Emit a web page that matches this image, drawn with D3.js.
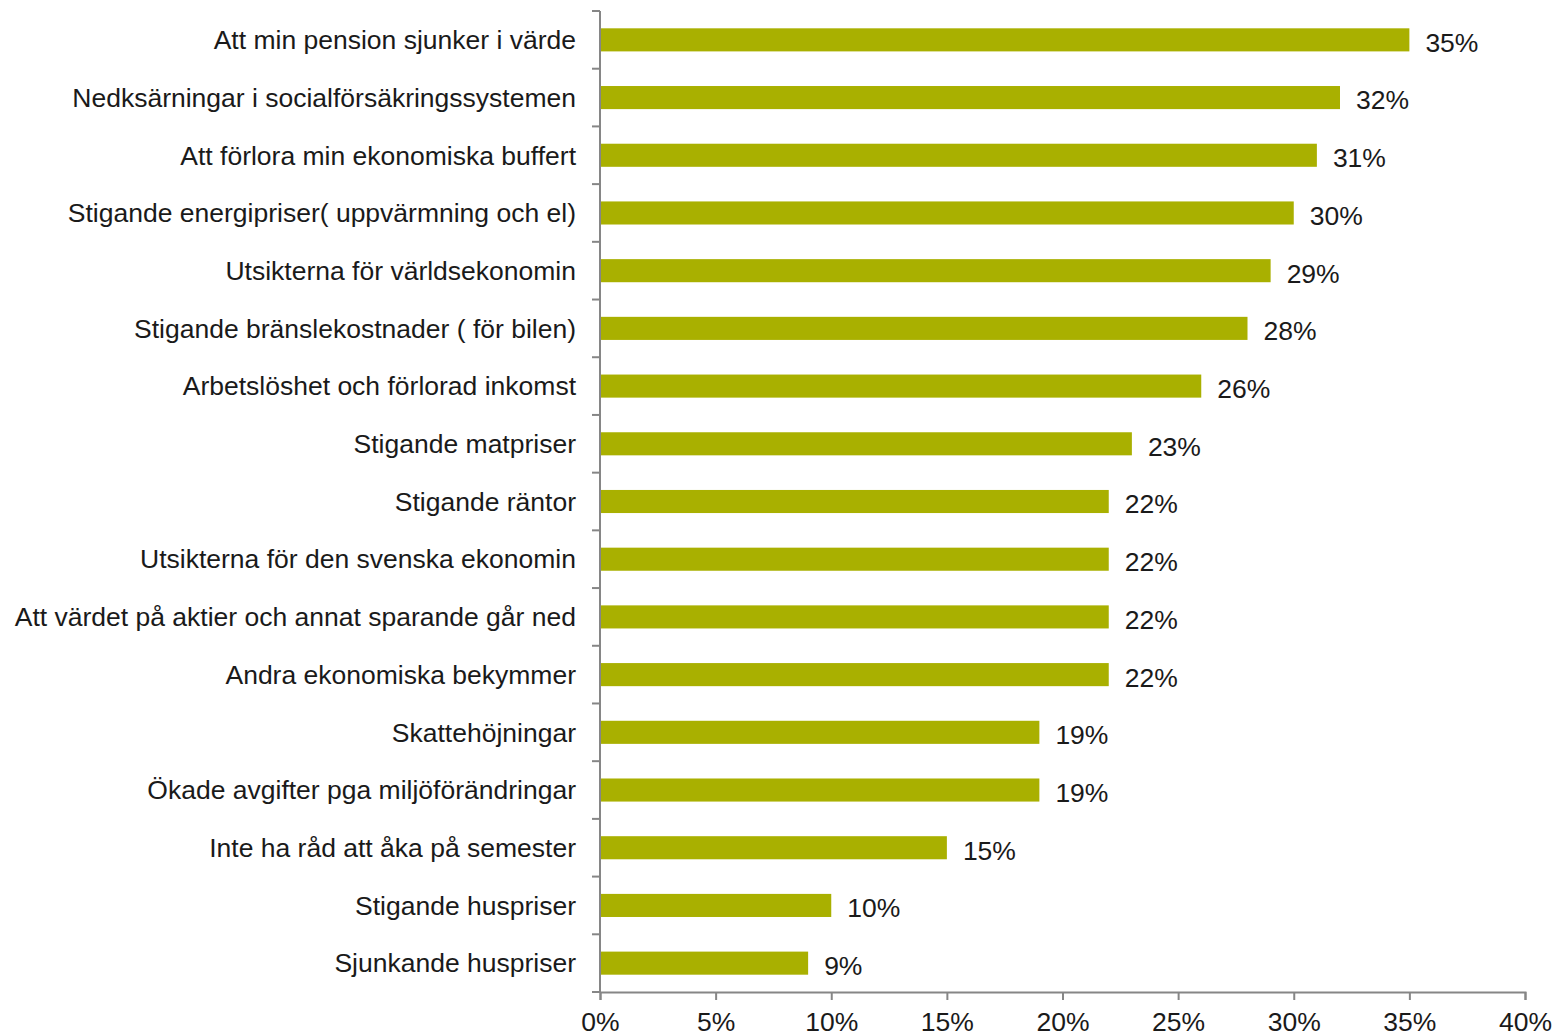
<!DOCTYPE html>
<html>
<head>
<meta charset="utf-8">
<script src="https://cdn.jsdelivr.net/npm/d3@7"></script>
<style>
  body { margin: 0; background: #fff; overflow: hidden; }
  text { font-family: "Liberation Sans", Arial, sans-serif; fill: #1a1a1a; }
</style>
</head>
<body>
<div id="chart"></div>
<script>
// categories, top to bottom
var categories = [
    "Att min pension sjunker i värde",
    "Nedksärningar i socialförsäkringssystemen",
    "Att förlora min ekonomiska buffert",
    "Stigande energipriser( uppvärmning och el)",
    "Utsikterna för världsekonomin",
    "Stigande bränslekostnader ( för bilen)",
    "Arbetslöshet och förlorad inkomst",
    "Stigande matpriser",
    "Stigande räntor",
    "Utsikterna för den svenska ekonomin",
    "Att värdet på aktier och annat sparande går ned",
    "Andra ekonomiska bekymmer",
    "Skattehöjningar",
    "Ökade avgifter pga miljöförändringar ",
    "Inte ha råd att åka på semester",
    "Stigande huspriser",
    "Sjunkande huspriser"
];
var values = [35, 32, 31, 30, 29, 28, 26, 23, 22, 22, 22, 22, 19, 19, 15, 10, 9];
var xTicks = [0, 5, 10, 15, 20, 25, 30, 35, 40];

var width = 1555, height = 1036;
var margin = { top: 11, right: 30, bottom: 44, left: 600 };
var innerW = width - margin.left - margin.right;
var innerH = height - margin.top - margin.bottom;
var fontSize = "26.5px";

var svg = d3.select("#chart").append("svg")
    .attr("width", width)
    .attr("height", height)
    .append("g")
    .attr("transform", "translate(" + margin.left + "," + margin.top + ")");

var x = d3.scaleLinear().domain([0, 40]).range([0, innerW]);
var y = d3.scaleBand().domain(categories).range([0, innerH]).paddingInner(0.6).paddingOuter(0.3);

var axisColor = "#868686";

// x axis
var xAxis = svg.append("g")
    .attr("transform", "translate(0," + innerH + ")")
    .call(d3.axisBottom(x).tickValues(xTicks).tickSize(8).tickPadding(12)
        .tickFormat(function(d) { return d + "%"; }));
xAxis.select(".domain").attr("stroke", axisColor).attr("stroke-width", 2);
xAxis.selectAll(".tick line").attr("stroke", axisColor).attr("stroke-width", 2);
xAxis.selectAll(".tick text").style("font-size", fontSize).attr("fill", "#1a1a1a");

// y axis line and ticks at band boundaries
var bounds = d3.range(categories.length + 1).map(function(i) { return i * innerH / categories.length; });
svg.append("line")
    .attr("x1", 0).attr("x2", 0).attr("y1", 0).attr("y2", innerH)
    .attr("stroke", axisColor).attr("stroke-width", 2);
svg.selectAll(".ytick").data(bounds).enter().append("line")
    .attr("class", "ytick")
    .attr("x1", -8).attr("x2", 0)
    .attr("y1", function(d) { return d; }).attr("y2", function(d) { return d; })
    .attr("stroke", axisColor).attr("stroke-width", 2);

// category labels
svg.selectAll(".cat").data(categories).enter().append("text")
    .attr("class", "cat")
    .attr("x", -24)
    .attr("y", function(d) { return y(d) + y.bandwidth() / 2; })
    .attr("dy", "0.35em")
    .attr("text-anchor", "end")
    .style("font-size", fontSize)
    .text(function(d) { return d; });

// bars
svg.selectAll(".bar").data(values).enter().append("rect")
    .attr("class", "bar")
    .attr("x", 1)
    .attr("y", function(d, i) { return y(categories[i]); })
    .attr("width", function(d) { return x(d) - 1; })
    .attr("height", y.bandwidth())
    .attr("fill", "#a9b000");

// value labels
svg.selectAll(".val").data(values).enter().append("text")
    .attr("class", "val")
    .attr("x", function(d) { return x(d) + 16; })
    .attr("y", function(d, i) { return y(categories[i]) + y.bandwidth() / 2; })
    .attr("dy", "0.45em")
    .style("font-size", fontSize)
    .text(function(d) { return d + "%"; });
</script>
</body>
</html>
